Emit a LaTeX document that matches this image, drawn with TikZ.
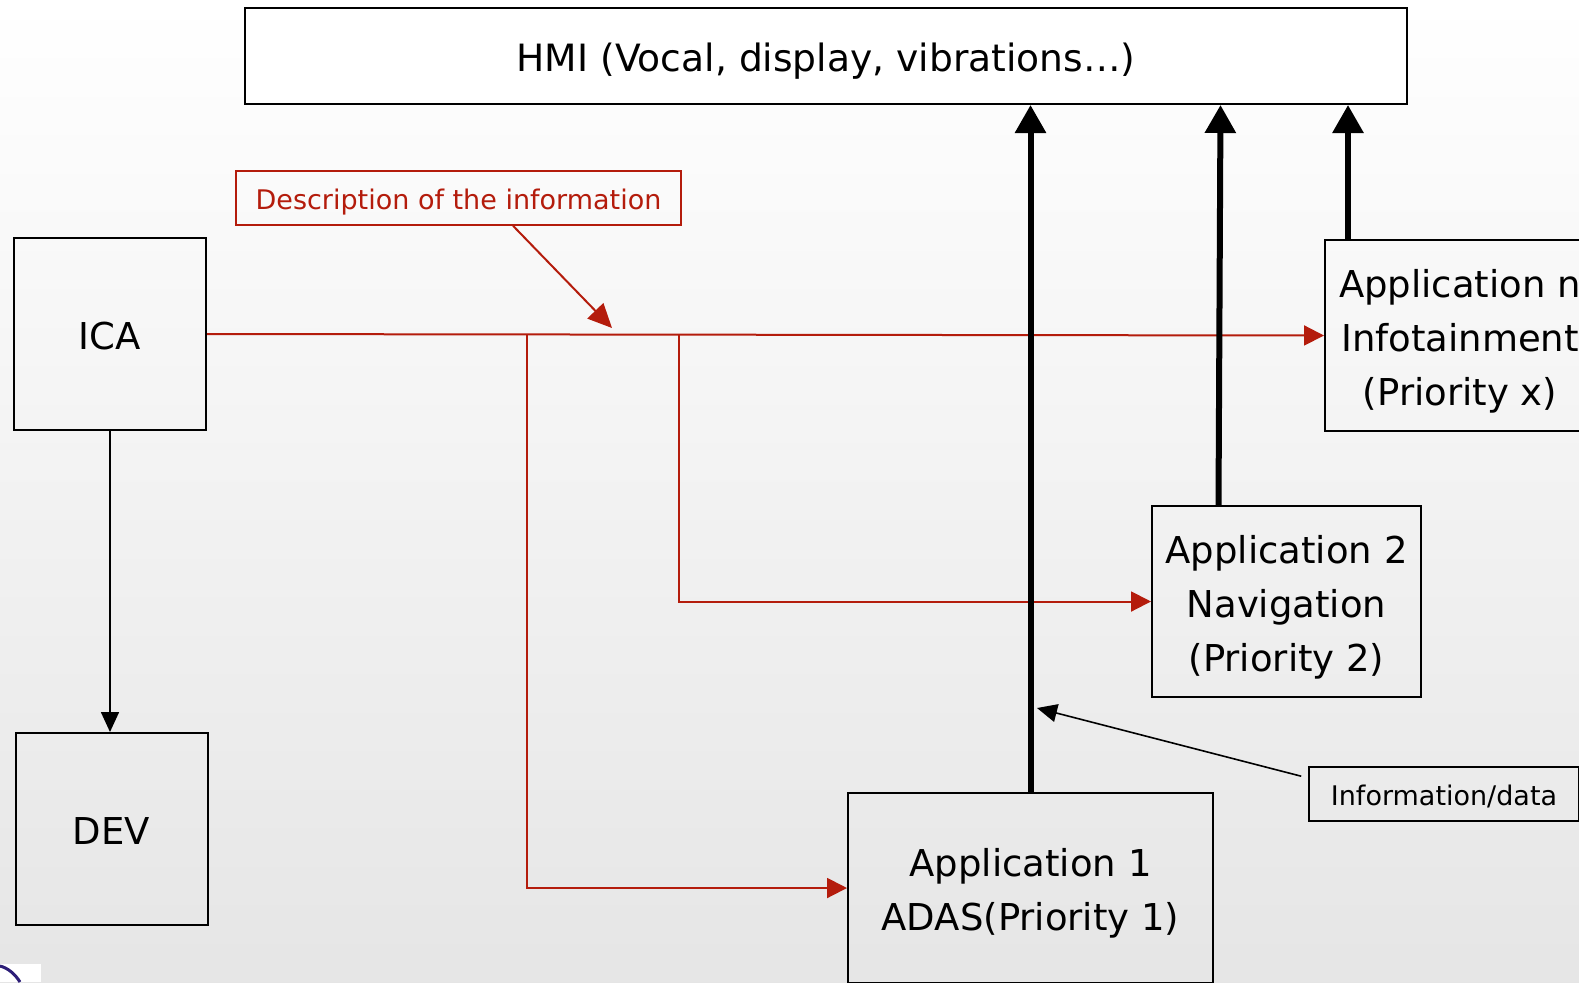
\documentclass[tikz,border=0pt]{standalone}
\usepackage{fontspec}
\setmainfont{DejaVu Sans}
\usetikzlibrary{arrows.meta,positioning}
\definecolor{infored}{RGB}{180,28,12}
\definecolor{logoblue}{RGB}{45,30,120}
\newcommand{\apptop}{\rule{0pt}{19.5pt}}

\begin{document}
\begin{tikzpicture}[x=0.5pt, y=-0.5pt,
  box/.style={draw, line width=1pt, minimum width=96pt, minimum height=96pt, align=center, inner sep=0pt, font=\fontsize{18.5}{27}\selectfont, text height=15pt, text depth=0pt},
  appbox/.style={draw, line width=1pt, minimum width=135pt, minimum height=95.5pt, align=center, inner sep=0pt, font=\fontsize{18.5}{27}\selectfont},
  note/.style={draw, line width=0.8pt, minimum height=27pt, align=center, inner sep=0pt, font=\fontsize{13.5}{16}\selectfont, text height=11.2pt, text depth=0pt},
  redarr/.style={-{Triangle[length=10pt, width=10pt]}, line width=1pt, infored},
  blackarr/.style={-{Triangle[length=10pt, width=9pt]}, line width=0.8pt},
  thickarr/.style={-{Triangle[length=14pt, width=15pt]}, line width=3pt}]
\useasboundingbox (0,0) rectangle (1579,982);
\clip (0,0) rectangle (1579,982);
\shade[top color=white, bottom color=gray!20] (0,0) rectangle (1579,982);

\node[box, fill=white, minimum width=581pt, minimum height=48pt, font=\fontsize{18.8}{27}\selectfont] (hmi) at (826,56) {HMI (Vocal, display, vibrations…)};
\node[box] (ica) at (110,334) {ICA};
\node[box] (dev) at (111.5,829) {DEV};
\node[appbox] (appn) at (1460,335.5) {\apptop Application n\\Infotainment\\(Priority x)};
\node[appbox, minimum width=134.5pt] (apptwo) at (1286.5,601.5) {\apptop Application 2\\Navigation\\(Priority 2)};
\node[appbox, minimum width=182.5pt, minimum height=95pt] (appone) at (1030.5,888) {\apptop Application 1\\ADAS(Priority 1)};
\node[note, draw=infored, text=infored, minimum width=222.5pt] (desc) at (458.5,198) {Description of the information};
\node[note, minimum width=135pt] (info) at (1444,794) {Information/data};

\coordinate (splitone) at (527,334);
\coordinate (splittwo) at (679,334);
\coordinate (desctip) at (612,328);
\coordinate (infotip) at (1037,708);

% ICA to the applications
\draw[blackarr] (ica.south) -- (ica.south |- dev.north);
\draw[redarr] (ica.east) -- (appn.west);
\draw[redarr] (splittwo) |- (apptwo.west);
\draw[redarr] (splitone) |- (appone.west);
\draw[redarr, -{Triangle[length=12pt, width=11pt]}] (desc.-27) -- (desctip);

% applications to HMI
\draw[thickarr] (appone.north) -- (appone.north |- hmi.south);
\draw[thickarr] ([xshift=-34pt]apptwo.north) -- ([xshift=-33pt]apptwo.north |- hmi.south);
\draw[thickarr] ([xshift=-56pt]appn.north) -- ([xshift=-56pt]appn.north |- hmi.south);
\draw[blackarr] ([xshift=-3.5pt, yshift=-5pt]info.north west) -- (infotip);

% logo corner
\fill[white] (0,964) rectangle (41,982);
\draw[logoblue, line width=1.5pt] (0,966) .. controls (8,968) and (15,974) .. (20,982);
\end{tikzpicture}
\end{document}
